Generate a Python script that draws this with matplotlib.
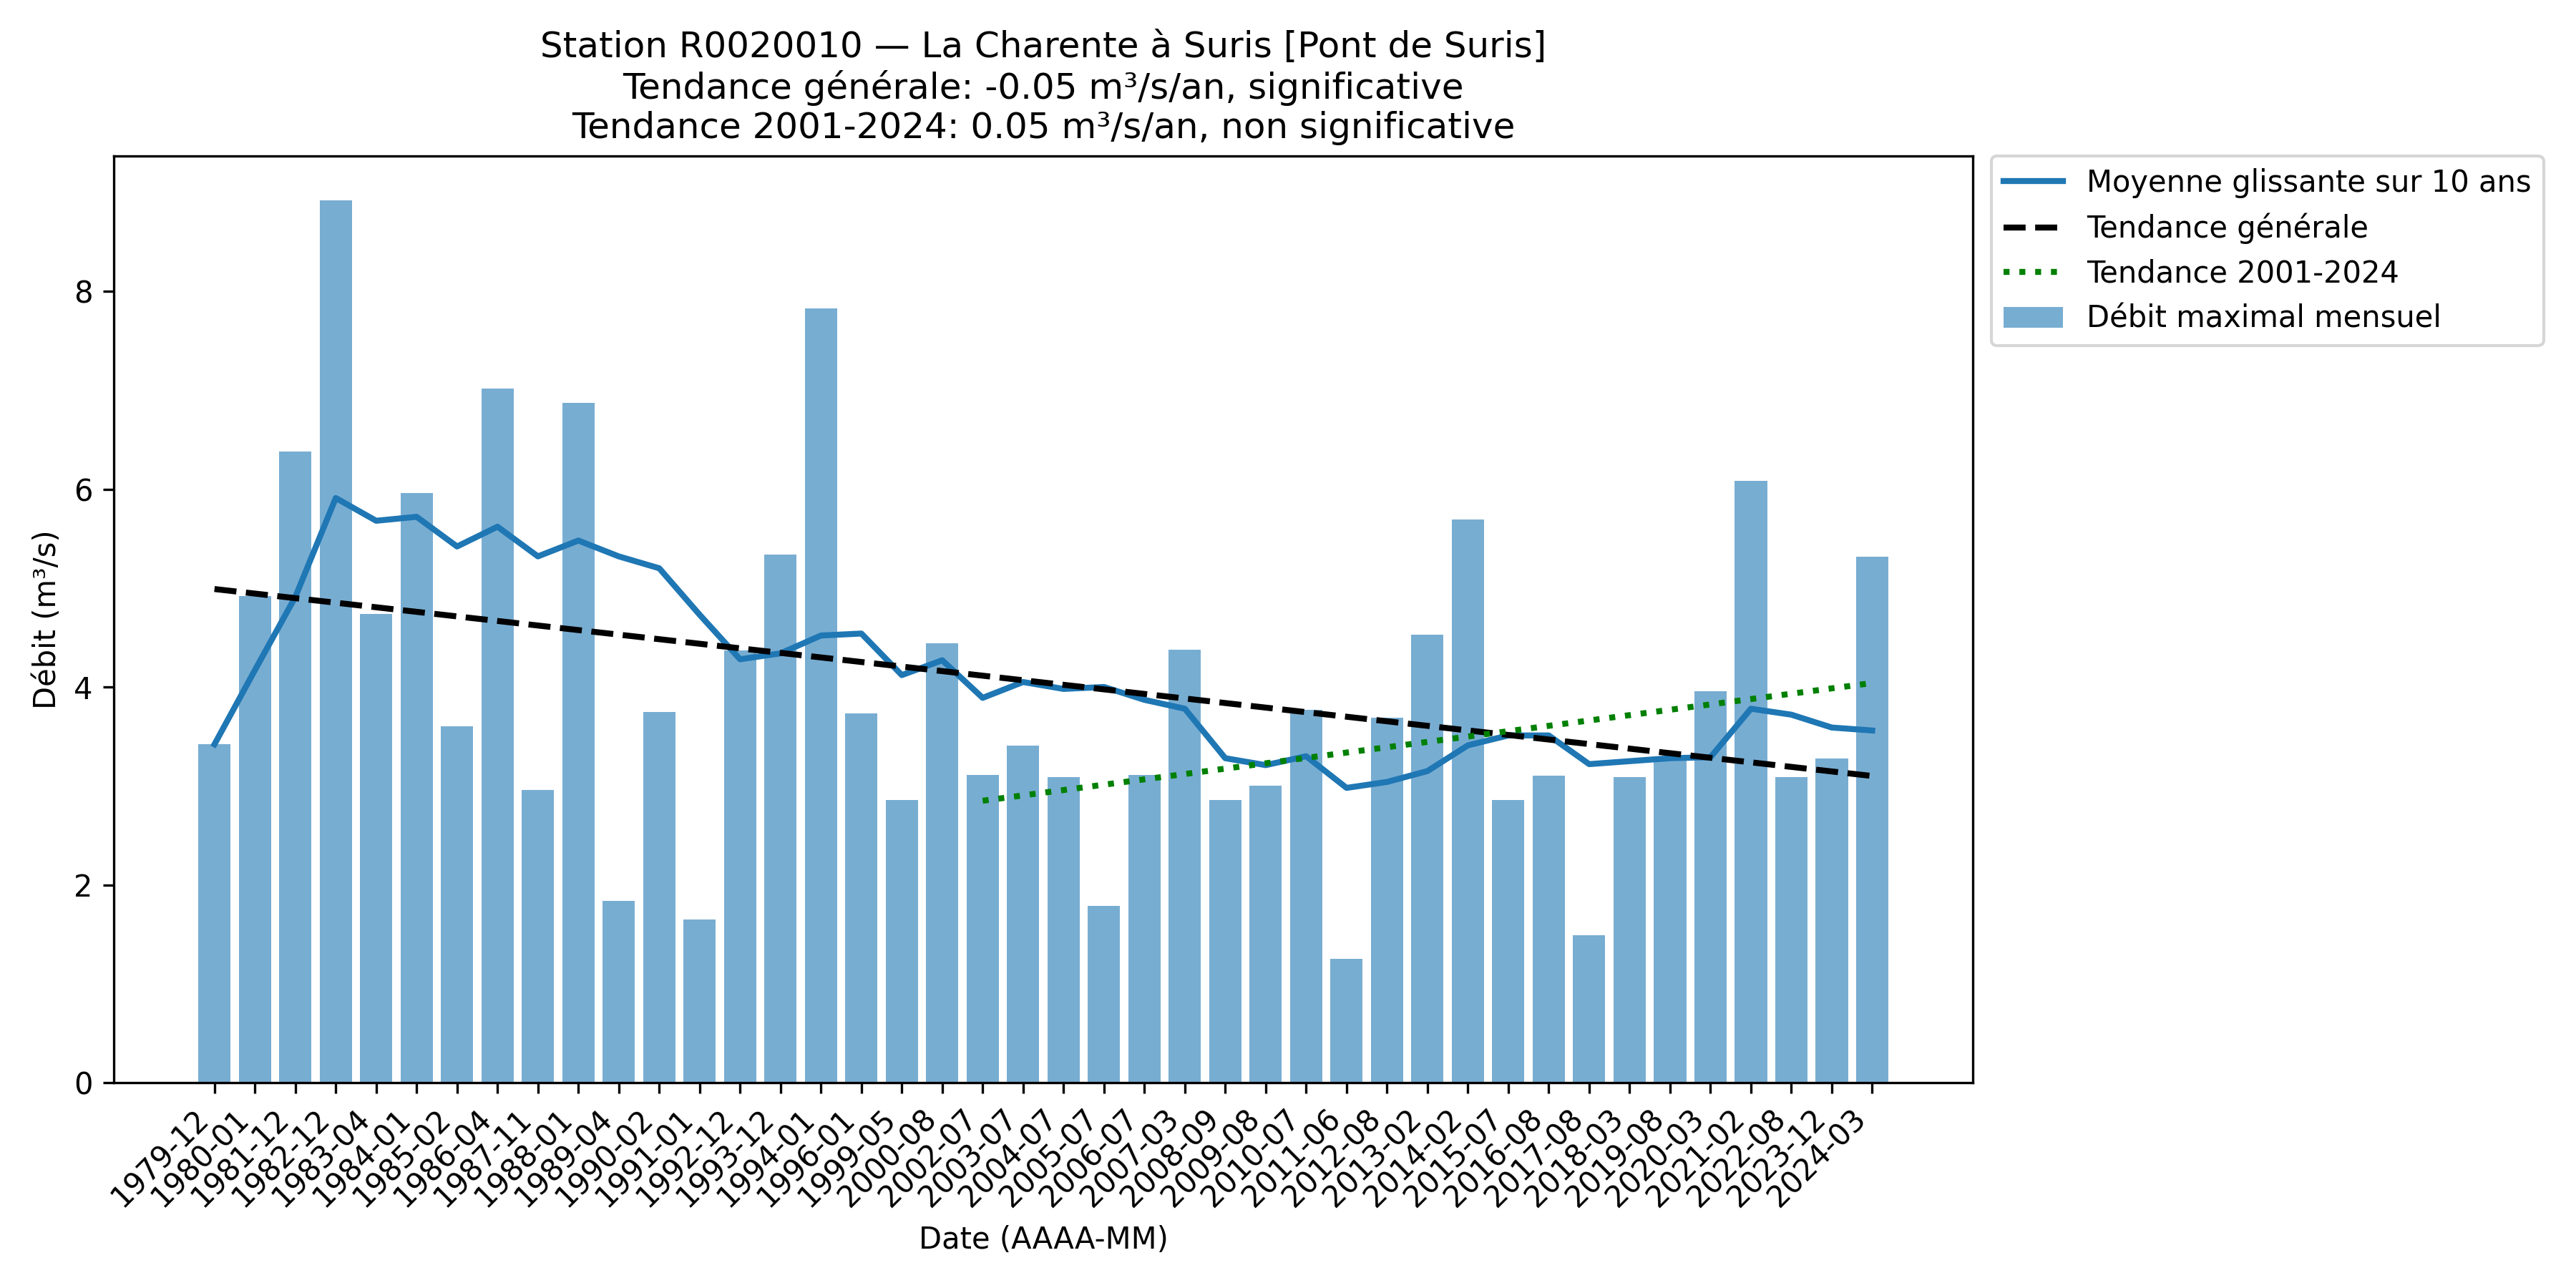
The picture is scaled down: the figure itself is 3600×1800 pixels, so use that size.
import matplotlib
matplotlib.use("Agg")
import matplotlib.pyplot as plt
import numpy as np

dates = ["1979-12", "1980-01", "1981-12", "1982-12", "1983-04", "1984-01", "1985-02",
         "1986-04", "1987-11", "1988-01", "1989-04", "1990-02", "1991-01", "1992-12",
         "1993-12", "1994-01", "1996-01", "1999-05", "2000-08", "2002-07", "2003-07",
         "2004-07", "2005-07", "2006-07", "2007-03", "2008-09", "2009-08", "2010-07",
         "2011-06", "2012-08", "2013-02", "2014-02", "2015-07", "2016-08", "2017-08",
         "2018-03", "2019-08", "2020-03", "2021-02", "2022-08", "2023-12", "2024-03"]

debit_max = [3.42, 4.92, 6.38, 8.92, 4.74, 5.96, 3.60, 7.02, 2.96, 6.87,
             1.84, 3.75, 1.65, 4.37, 5.34, 7.83, 3.73, 2.86, 4.44, 3.11,
             3.41, 3.09, 1.79, 3.11, 4.38, 2.86, 3.00, 3.77, 1.25, 3.69,
             4.53, 5.69, 2.86, 3.10, 1.49, 3.09, 3.28, 3.96, 6.08, 3.09,
             3.28, 5.32]

moyenne_glissante = [3.42, 4.17, 4.91, 5.91, 5.68, 5.72, 5.42, 5.62, 5.32, 5.48,
                     5.32, 5.20, 4.73, 4.28, 4.34, 4.52, 4.54, 4.12, 4.27, 3.89,
                     4.05, 3.98, 4.00, 3.87, 3.78, 3.28, 3.21, 3.30, 2.98, 3.04,
                     3.15, 3.41, 3.51, 3.51, 3.22, 3.25, 3.28, 3.29, 3.78, 3.72,
                     3.59, 3.56]

# trend lines: (start category, end category) and values at those ends
tendance_gen_dates = ["1979-12", "2024-03"]
tendance_gen_vals = [4.99, 3.10]
tendance_rec_dates = ["2002-07", "2024-03"]
tendance_rec_vals = [2.85, 4.04]

title = ("Station R0020010 — La Charente à Suris [Pont de Suris]\n"
         "Tendance générale: -0.05 m³/s/an, significative\n"
         "Tendance 2001-2024: 0.05 m³/s/an, non significative")

fig = plt.figure(figsize=(12, 6), dpi=300)
ax = fig.add_axes([0.04417, 0.1594, 0.7217, 0.7194])

x = np.arange(len(dates))
ax.bar(x, debit_max, color="#1f77b4", alpha=0.6, label="Débit maximal mensuel")
ax.plot(x, moyenne_glissante, color="#1f77b4", lw=2, label="Moyenne glissante sur 10 ans")
xg = [dates.index(d) for d in tendance_gen_dates]
ax.plot(xg, tendance_gen_vals, color="black", ls="--", lw=2, label="Tendance générale")
xr = [dates.index(d) for d in tendance_rec_dates]
ax.plot(xr, tendance_rec_vals, color="green", ls=":", lw=2, label="Tendance 2001-2024")

ax.set_xticks(x)
ax.set_xticklabels(dates, rotation=45, ha="right")
ax.set_xlabel("Date (AAAA-MM)")
ax.set_ylabel("Débit (m³/s)")
ax.set_title(title)

ax.legend(loc="upper left", bbox_to_anchor=(1.01, 1.0), borderaxespad=0)

fig.savefig("out.png", dpi=300)
